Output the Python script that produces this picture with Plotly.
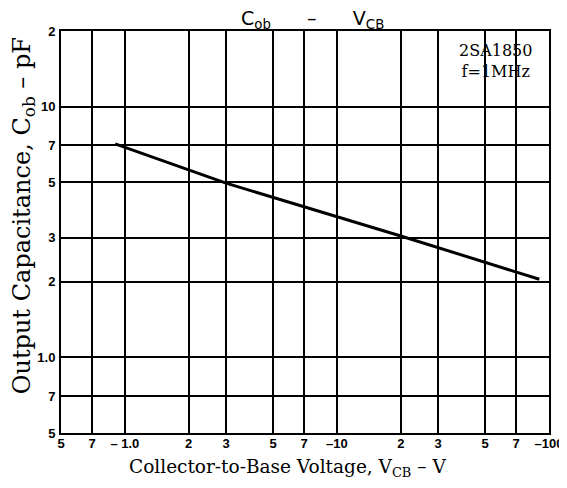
import math
import plotly.graph_objects as go

# ---- data ----
vcb_abs = [0.9, 3, 20, 90]          # |V_CB| in V (axis labels show negative values)
cob_pf = [7.1, 4.95, 3.05, 2.05]    # C_ob in pF

x_tickvals = [0.5, 0.7, 1, 2, 3, 5, 7, 10, 20, 30, 50, 70, 100]
x_ticktext = ["5", "7", "– 1.0", "2", "3", "5", "7", "–10", "2", "3", "5", "7", "–100"]
y_tickvals = [0.5, 0.7, 1, 2, 3, 5, 7, 10, 20]
y_ticktext = ["5", "7", "1.0", "2", "3", "5", "7", "10", "2"]

x_range = [0.5, 100]
y_range = [0.5, 20]

part_text = "2SA1850<br>f=1MHz"
x_title = "Collector-to-Base Voltage, V<sub>CB</sub> – V"
y_title = "Output Capacitance, C<sub>ob</sub> – pF"
chart_title = "C<sub>ob</sub>      –      V<sub>CB</sub>"

# ---- figure ----
# the page body adds an 8px offset; margins below compensate for it
L, R, T, B = 53, 23, 23, 63
W, H = 567, 488
PW, PH = W - L - R, H - T - B

def xpaper(v):
    return (math.log10(v) - math.log10(x_range[0])) / (math.log10(x_range[1]) - math.log10(x_range[0]))

def ypaper(v):
    return (math.log10(v) - math.log10(y_range[0])) / (math.log10(y_range[1]) - math.log10(y_range[0]))

def xpix(px):  # figure pixel column -> paper x
    return (px - L) / PW

def ypix(py):  # figure pixel row -> paper y
    return (H - B - py) / PH

fig = go.Figure()
fig.add_trace(go.Scatter(
    x=vcb_abs, y=cob_pf, mode="lines",
    line=dict(color="black", width=3),
    showlegend=False, hoverinfo="skip",
))

axis_common = dict(
    type="log",
    showgrid=True, gridcolor="black", gridwidth=2,
    showline=True, linecolor="black", linewidth=2, mirror=True,
    ticks="", zeroline=False,
    tickfont=dict(family="Liberation Sans", size=13, color="black", weight="bold"),
)

fig.update_xaxes(
    **axis_common,
    range=[math.log10(x_range[0]), math.log10(x_range[1])],
    tickvals=x_tickvals, ticktext=x_ticktext, ticklabelstandoff=-3,
)
fig.update_yaxes(
    **axis_common,
    range=[math.log10(y_range[0]), math.log10(y_range[1])],
    tickvals=y_tickvals, ticktext=y_ticktext, ticklabelstandoff=1,
)

shapes = [
    # white label box hiding grid lines behind the part text
    dict(type="rect", xref="paper", yref="paper",
         x0=xpaper(31), x1=xpaper(98), y0=ypaper(11.9), y1=ypaper(19.5),
         fillcolor="white", line=dict(width=0), layer="between"),
]

annotations = [
    dict(text=part_text, xref="paper", yref="paper",
         x=xpix(490), y=ypix(53),
         xanchor="center", yanchor="middle", showarrow=False, align="center",
         font=dict(family="DejaVu Serif", size=16, color="black")),
    dict(text=x_title, xref="paper", yref="paper",
         x=xpix(281), y=ypix(460),
         xanchor="center", yanchor="middle", showarrow=False,
         font=dict(family="DejaVu Serif", size=18.5, color="black")),
    dict(text=y_title, xref="paper", yref="paper", textangle=-90,
         x=xpix(16), y=ypix(208),
         xanchor="center", yanchor="middle", showarrow=False,
         font=dict(family="DejaVu Serif", size=24, color="black")),
    dict(text=chart_title, xref="paper", yref="paper",
         x=xpix(306), y=ypix(-3),
         xanchor="center", yanchor="top", showarrow=False,
         font=dict(family="DejaVu Sans", size=19, color="black")),
]

fig.update_layout(
    width=W, height=H,
    margin=dict(l=L, r=R, t=T, b=B),
    paper_bgcolor="white", plot_bgcolor="white",
    shapes=shapes,
    annotations=annotations,
)

fig.write_html("out.html")
